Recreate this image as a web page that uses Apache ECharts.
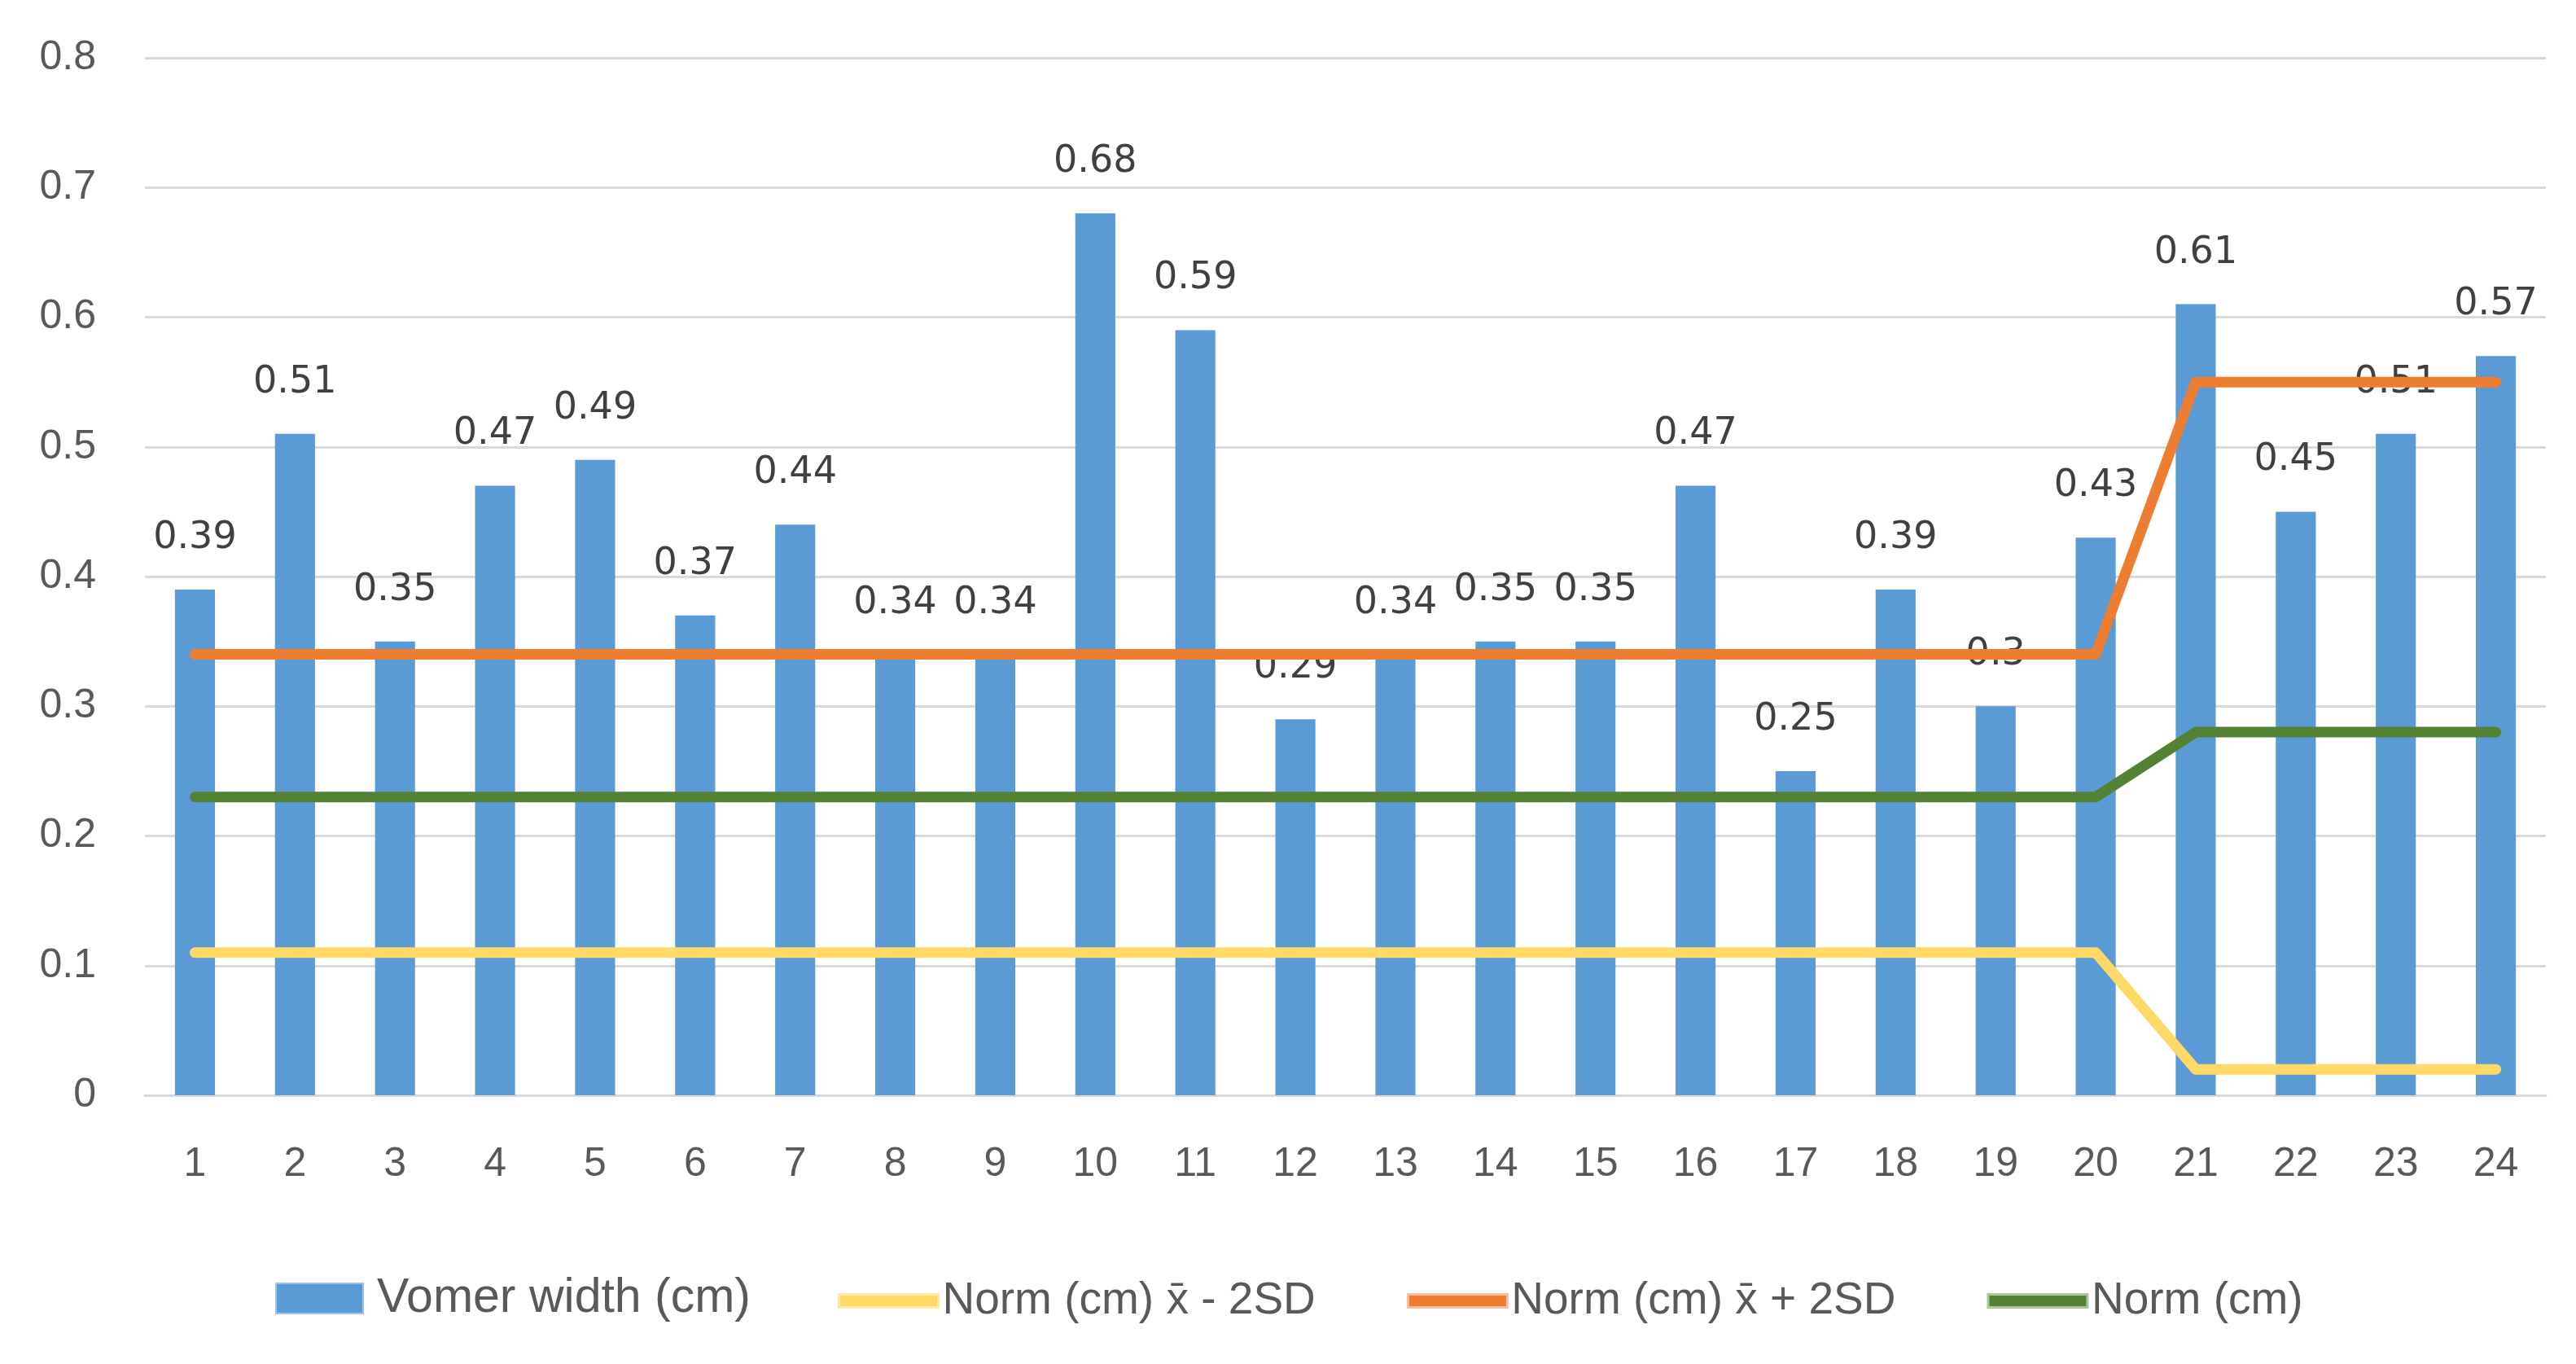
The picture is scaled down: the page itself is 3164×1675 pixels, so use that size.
<!DOCTYPE html>
<html>
<head>
<meta charset="utf-8">
<script src="https://cdn.jsdelivr.net/npm/echarts@6/dist/echarts.min.js"></script>
<style>html,body{margin:0;padding:0;background:#fff}#c{width:3164px;height:1675px}</style>
</head>
<body>
<div id="c"></div>
<script>
const categories = ['1','2','3','4','5','6','7','8','9','10','11','12','13','14','15','16','17','18','19','20','21','22','23','24'];
const vomerWidth = [0.39,0.51,0.35,0.47,0.49,0.37,0.44,0.34,0.34,0.68,0.59,0.29,0.34,0.35,0.35,0.47,0.25,0.39,0.3,0.43,0.61,0.45,0.51,0.57];
const normMinus2SD = [0.11,0.11,0.11,0.11,0.11,0.11,0.11,0.11,0.11,0.11,0.11,0.11,0.11,0.11,0.11,0.11,0.11,0.11,0.11,0.11,0.02,0.02,0.02,0.02];
const normPlus2SD = [0.34,0.34,0.34,0.34,0.34,0.34,0.34,0.34,0.34,0.34,0.34,0.34,0.34,0.34,0.34,0.34,0.34,0.34,0.34,0.34,0.55,0.55,0.55,0.55];
const norm = [0.23,0.23,0.23,0.23,0.23,0.23,0.23,0.23,0.23,0.23,0.23,0.23,0.23,0.23,0.23,0.23,0.23,0.23,0.23,0.23,0.28,0.28,0.28,0.28];
const yTicks = {min: 0, max: 0.8, interval: 0.1};
const names = ['Vomer width (cm)', 'Norm (cm) x\u0304 - 2SD', 'Norm (cm) x\u0304 + 2SD', 'Norm (cm)'];
const colors = ['#5B9BD5', '#FFD966', '#ED7D31', '#548235'];
const lightColors = ['#9DC3E6', '#FFE9A8', '#F6C0A0', '#AEC49E'];

const chart = echarts.init(document.getElementById('c'));
const tickFont = {fontFamily: 'Liberation Sans', fontSize: 50, color: '#595959'};
const lineSeries = (i, data) => ({
  name: names[i], type: 'line', data, symbol: 'none', z: 3,
  lineStyle: {color: colors[i], width: 13, cap: 'round', join: 'round'},
  itemStyle: {color: colors[i]}
});
chart.setOption({
  animation: false,
  grid: {left: 178, right: 37, top: 71, bottom: 330, containLabel: false},
  legend: [
    {
      bottom: 46, left: 333, itemWidth: 107, itemHeight: 37,
      textStyle: {fontFamily: 'Liberation Sans', fontSize: 59, color: '#595959', padding: [0, 0, 0, 12]},
      data: [{name: names[0], icon: 'rect', itemStyle: {color: colors[0], borderColor: lightColors[0], borderWidth: 2}}]
    },
    {
      bottom: 45, left: 1024, itemWidth: 122, itemHeight: 16, itemGap: 112,
      textStyle: {fontFamily: 'Liberation Sans', fontSize: 55, color: '#595959'},
      data: [1, 2, 3].map(i => ({
        name: names[i], icon: 'rect',
        itemStyle: {color: colors[i], borderColor: lightColors[i], borderWidth: 3}
      }))
    }
  ],
  xAxis: {
    type: 'category', data: categories,
    axisLine: {lineStyle: {color: '#D9D9D9', width: 3}},
    axisTick: {show: false},
    axisLabel: Object.assign({margin: 60}, tickFont)
  },
  yAxis: {
    type: 'value', min: yTicks.min, max: yTicks.max, interval: yTicks.interval,
    axisLine: {show: false}, axisTick: {show: false},
    splitLine: {lineStyle: {color: '#D9D9D9', width: 3}},
    axisLabel: Object.assign({margin: 60, formatter: v => String(+v.toFixed(1))}, tickFont)
  },
  series: [
    {
      name: names[0], type: 'bar', data: vomerWidth, barWidth: '40%', z: 2,
      itemStyle: {color: colors[0]},
      label: {show: true, position: 'top', distance: 40, fontFamily: 'DejaVu Sans', fontSize: 46, color: '#404040'}
    },
    lineSeries(1, normMinus2SD),
    lineSeries(2, normPlus2SD),
    lineSeries(3, norm)
  ]
});
</script>
</body>
</html>
